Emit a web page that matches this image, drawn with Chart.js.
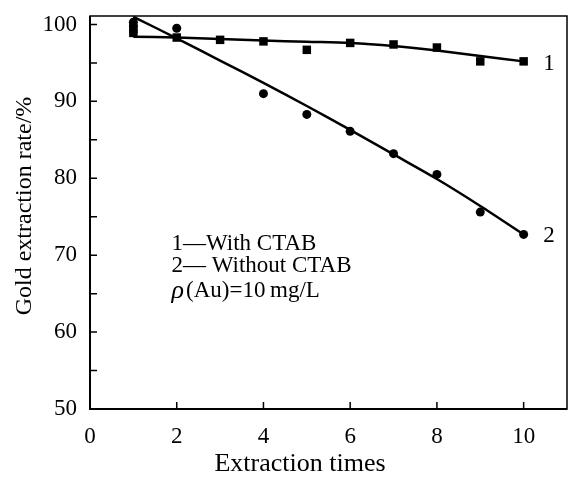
<!DOCTYPE html>
<html lang="en">
<head>
<meta charset="UTF-8">
<title>Gold extraction rate</title>
<script src="https://cdn.jsdelivr.net/npm/chart.js"></script>
<style>
  html, body { margin: 0; padding: 0; background: #fff; overflow: hidden; }
  #wrap { width: 573px; height: 477px; }
</style>
</head>
<body>
<div id="wrap"><canvas id="chart" width="573" height="477"></canvas></div>
<script>
// measured points
const timesWith = [1, 1, 2, 3, 4, 5, 6, 7, 8, 9, 10];
const rateWith = [99.4, 98.9, 98.3, 98.0, 97.8, 96.7, 97.6, 97.4, 97.0, 95.2, 95.2];
const timesWithout = [1, 1, 2, 4, 5, 6, 7, 8, 9, 10];
const rateWithout = [100.3, 99.8, 99.5, 91.0, 88.3, 86.1, 83.2, 80.5, 75.6, 72.7];

// fitted curves
const fitTimes = [1, 2, 3, 4, 5, 6, 7, 8, 9, 10];
const fitWith = [98.4, 98.3, 98.1, 97.9, 97.75, 97.6, 97.2, 96.6, 95.9, 95.2];
const fitWithout = [101.0, 98.2, 95.3, 92.4, 89.4, 86.3, 83.1, 79.9, 76.4, 72.7];

const xTicks = [0, 2, 4, 6, 8, 10];
const yTicks = [50, 55, 60, 65, 70, 75, 80, 85, 90, 95, 100];
const yLabels = [50, 60, 70, 80, 90, 100];

const serif = '"Liberation Serif", "Times New Roman", serif';

function pts(xs, ys) {
  return xs.map((x, i) => ({ x: x, y: ys[i] }));
}

// box, inward ticks and the text in the plot
const decor = {
  id: 'decor',
  afterDraw(chart) {
    const ctx = chart.ctx;
    const a = chart.chartArea;
    const xs = chart.scales.x, ys = chart.scales.y;
    ctx.save();
    ctx.strokeStyle = '#000';
    ctx.lineWidth = 1.5;
    ctx.strokeRect(a.left, a.top, a.right - a.left, a.bottom - a.top);
    ctx.lineWidth = 2;
    ctx.beginPath();
    ctx.moveTo(a.left, a.top); ctx.lineTo(a.left, a.bottom); ctx.lineTo(a.right, a.bottom);
    ctx.stroke();
    ctx.lineWidth = 1.5;
    ctx.beginPath();
    yTicks.forEach(v => {
      const py = ys.getPixelForValue(v);
      ctx.moveTo(a.left, py); ctx.lineTo(a.left + 7, py);
    });
    xTicks.forEach(v => {
      const px = xs.getPixelForValue(v);
      ctx.moveTo(px, a.bottom); ctx.lineTo(px, a.bottom - 7);
    });
    ctx.stroke();

    ctx.fillStyle = '#000';
    ctx.textBaseline = 'middle';
    ctx.font = '23px ' + serif;
    ctx.textAlign = 'left';
    ctx.fillText('1', xs.getPixelForValue(10.45), ys.getPixelForValue(94.8));
    ctx.fillText('2', xs.getPixelForValue(10.45), ys.getPixelForValue(72.5));

    const lx = xs.getPixelForValue(1.88);
    ctx.font = '23px ' + serif;
    ctx.fillText('1\u2014With CTAB', lx, ys.getPixelForValue(71.4));
    ctx.fillText('2\u2014 Without CTAB', lx, ys.getPixelForValue(68.6));
    const ry = ys.getPixelForValue(65.3);
    ctx.font = 'italic 26px ' + serif;
    ctx.fillText('\u03C1', lx, ry);
    const w = ctx.measureText('\u03C1').width;
    ctx.font = '23px ' + serif;
    ctx.fillText('(Au)=10\u2009mg/L', lx + w + 2, ry);

    // axis titles
    ctx.textAlign = 'center';
    ctx.font = '26px ' + serif;
    ctx.fillText('Extraction times', 300, 464);
    ctx.font = '24px ' + serif;
    ctx.translate(25, 206);
    ctx.rotate(-Math.PI / 2);
    ctx.fillText('Gold extraction rate/%', 0, 0);
    ctx.restore();
  }
};

new Chart(document.getElementById('chart'), {
  type: 'scatter',
  data: {
    datasets: [
      {
        label: 'With CTAB fit',
        data: pts(fitTimes, fitWith),
        showLine: true,
        borderColor: '#000',
        borderWidth: 2.5,
        pointRadius: 0,
        tension: 0.3
      },
      {
        label: 'Without CTAB fit',
        data: pts(fitTimes, fitWithout),
        showLine: true,
        borderColor: '#000',
        borderWidth: 2.5,
        pointRadius: 0,
        tension: 0.3
      },
      {
        label: '1 - With CTAB',
        data: pts(timesWith, rateWith),
        pointStyle: 'rect',
        pointRadius: 6,
        backgroundColor: '#000',
        borderColor: '#000',
        borderWidth: 0
      },
      {
        label: '2 - Without CTAB',
        data: pts(timesWithout, rateWithout),
        pointStyle: 'circle',
        pointRadius: 4.5,
        backgroundColor: '#000',
        borderColor: '#000',
        borderWidth: 0
      }
    ]
  },
  options: {
    responsive: false,
    animation: false,
    layout: { padding: { top: 16, right: 1, left: 0, bottom: 0 } },
    plugins: { legend: { display: false }, tooltip: { enabled: false } },
    scales: {
      x: {
        type: 'linear',
        min: 0,
        max: 11,
        afterBuildTicks: s => { s.ticks = xTicks.map(v => ({ value: v })); },
        afterFit: s => { s.height = 68; s.paddingLeft = 0; s.paddingRight = 0; },
        grid: { display: false, drawTicks: false },
        border: { display: false },
        ticks: { padding: 14, color: '#000', font: { family: serif, size: 23 } }
      },
      y: {
        type: 'linear',
        min: 50,
        max: 101.1,
        afterBuildTicks: s => { s.ticks = yLabels.map(v => ({ value: v })); },
        afterFit: s => { s.width = 90; s.paddingTop = 0; s.paddingBottom = 0; },
        grid: { display: false, drawTicks: false },
        border: { display: false },
        ticks: { padding: 13, color: '#000', font: { family: serif, size: 23 } }
      }
    }
  },
  plugins: [decor]
});
</script>
</body>
</html>
